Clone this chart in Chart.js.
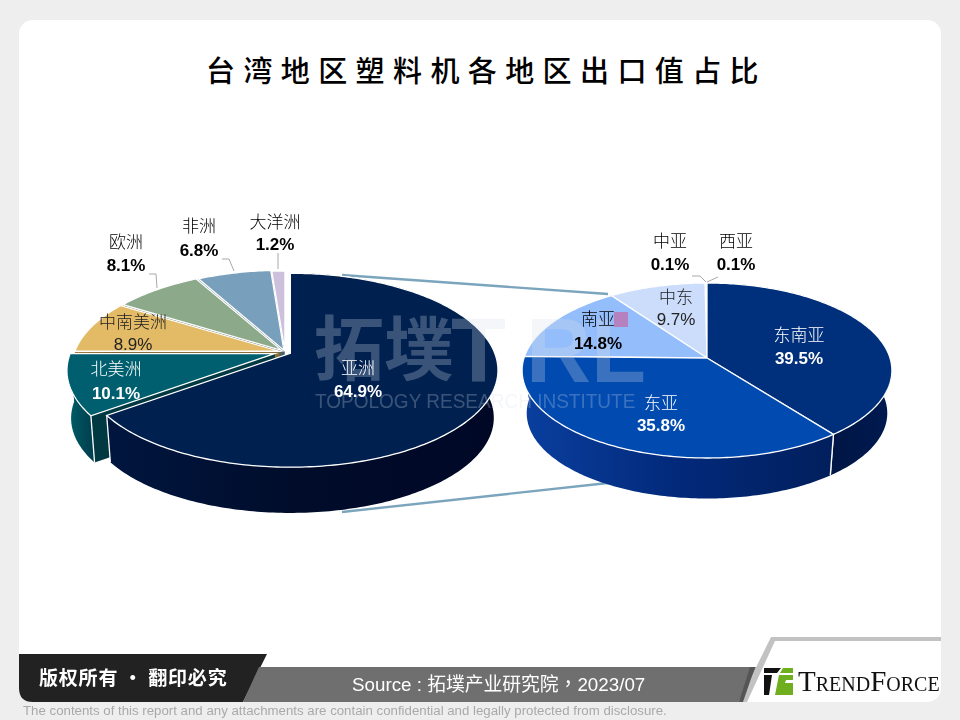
<!DOCTYPE html>
<html>
<head>
<meta charset="utf-8">
<title>台湾地区塑料机各地区出口值占比</title>
<script src="https://cdn.jsdelivr.net/npm/chart.js@4/dist/chart.umd.min.js"></script>
<style>
html, body { margin: 0; padding: 0; }
body { width: 960px; height: 720px; background: #eeeeee; position: relative; overflow: hidden; font-family: "Liberation Sans", Arial, sans-serif; }
#card { position: absolute; left: 19px; top: 20px; width: 922px; height: 682px; background: #fff; border-radius: 14px; }
#title { position: absolute; left: 0; top: 45px; width: 973px; text-align: center; font: 500 29px/48px "Noto Sans CJK SC", sans-serif; letter-spacing: 8.4px; color: #000; }
svg { position: absolute; left: 0; top: 0; }
canvas { position: absolute; }
#pieMain { left: 50px; top: 180px; }
#pieSub { left: 500px; top: 206px; }
.mark { position: absolute; color: rgba(215, 222, 232, 0.27); font-weight: bold; white-space: nowrap; line-height: 1; }
.name, .val { position: absolute; transform: translate(-50%, -50%); white-space: nowrap; line-height: 1; }
.name { font: 300 17px/1 "Noto Sans CJK SC", sans-serif; }
.val { font: bold 17px/1 "Liberation Sans", Arial, sans-serif; }
#pink { position: absolute; left: 614px; top: 312px; width: 14px; height: 15px; background: #b581be; }
.foot { position: absolute; white-space: nowrap; }
</style>
</head>
<body>
<div id="card"></div>
<div id="title">台湾地区塑料机各地区出口值占比</div>

<!-- connector lines between the two pies -->
<svg width="960" height="720">
  <polyline points="342,275 608,294" fill="none" stroke="#7ba4bd" stroke-width="2.4"/>
  <polyline points="342,512 608,483" fill="none" stroke="#7ba4bd" stroke-width="2.4"/>
</svg>

<canvas id="pieMain" width="470" height="344"></canvas>
<canvas id="pieSub" width="414" height="304"></canvas>

<!-- watermark -->
<div class="mark" style="left:314px;top:310px;font:bold 70px/1 'Noto Sans CJK SC',sans-serif;">拓墣</div>
<div class="mark" style="left:451px;top:306px;font-size:90px;">T</div>
<div class="mark" style="left:526px;top:306px;font-size:90px;">RL</div>
<div class="mark" style="left:315px;top:390px;font-size:21px;font-weight:normal;transform:scaleX(0.905);transform-origin:left top;">TOPOLOGY RESEARCH INSTITUTE</div>

<!-- leader lines -->
<svg width="960" height="720">
  <g fill="none" stroke="#a8a8a8" stroke-width="1">
    <polyline points="149,274 156,274 157,288"/>
    <polyline points="222,259 229,259 234,271"/>
    <polyline points="278,253 278,269"/>
    <polyline points="692,276 700,276 706,282"/>
    <polyline points="718,277 707,282"/>
  </g>
</svg>

<div id="labels"></div>
<div id="pink"></div>

<!-- footer -->
<svg width="960" height="720">
  <path d="M19 654 H267 L243 702 H33 Q19 702 19 688 Z" fill="#222222"/>
  <path d="M243 702 L259 667 H756 L743 702 Z" fill="#6f6f6f"/>
  <path d="M771 637 H941 V641 H775 L747 702 H739 Z" fill="#c2c2c2"/>
  <path d="M755 667 L743 702 H739 L750 667 Z" fill="#555555"/>
  <path d="M764 668 H781 L777 673 H764 Z" fill="#111111"/>
  <path d="M764 675 H772 L769 695 H764 Z" fill="#111111"/>
  <path d="M783 668 H793 V673 H780 Z" fill="#6fae1e"/>
  <path d="M779 675 H793 V680 H786 L785 683 H793 V695 H775 Z" fill="#6fae1e"/>
</svg>
<div class="foot" style="left:39px;top:665px;color:#fff;font:bold 19px/24px 'Noto Sans CJK SC',sans-serif;letter-spacing:0.8px;">版权所有 · 翻印必究</div>
<div class="foot" style="left:352px;top:674px;color:#fff;font:18.8px/22px 'Liberation Sans','Noto Sans CJK TC',sans-serif;">Source : 拓墣产业研究院，2023/07</div>
<div class="foot" style="left:798px;top:666px;color:#111;font:29px/30px 'Liberation Serif',serif;font-variant:small-caps;">TrendForce</div>
<div class="foot" style="left:23px;top:703px;color:#a9a9a9;font:13.26px/16px 'Liberation Sans',Arial,sans-serif;">The contents of this report and any attachments are contain confidential and legally protected from disclosure.</div>

<script>
// Data
const regionNames = ['亚洲', '北美洲', '中南美洲', '欧洲', '非洲', '大洋洲'];
const regionValues = [64.9, 10.1, 8.9, 8.1, 6.8, 1.2];
const asiaNames = ['东南亚', '东亚', '南亚', '中东', '中亚', '西亚'];
const asiaValues = [39.5, 35.8, 14.8, 9.7, 0.1, 0.1];

// Slice colours
const regionColors = ['#002050', '#005f6e', '#e3bb66', '#8ca98a', '#789fbb', '#cdc0dc'];
const asiaColors = ['#00307b', '#004ab0', '#94bdfb', '#ccddfb', '#dfe8fb', '#dfe8fb'];
const regionOffsets = [6, 11, 6, 5, 4, 2];
const asiaOffsets = [0, 0, 0, 0, 0, 0];

// Side wall colours, left to right across each slice
const regionWalls = [['#00163f', '#000c2a', '#000826'], ['#00606e', '#004f5c', '#004050'], ['#a08040', '#806630'], ['#607860', '#506650'], ['#506f85', '#405a6c'], ['#8f86a0', '#7f7690']];
const asiaWalls = [['#000f36', '#00133f', '#001a50'], ['#0a3f9f', '#02297a', '#011f5c'], ['#5f86c8', '#4a6eaa'], ['#8fa4c8', '#7f94b8'], ['#9999aa', '#9999aa'], ['#9999aa', '#9999aa']];

// Where each label sits: x, name y, value y, colour, bold value
const regionPlaces = [
  [358, 366, 391, '#fff', true], [116, 367, 393, '#fff', true], [133, 320, 344, '#222', false],
  [126, 240, 265, '#000', true], [199, 224, 250, '#000', true], [275, 220, 244, '#000', true]
];
const asiaPlaces = [
  [799, 333, 358, '#fff', true], [661, 401, 425, '#fff', true], [598, 317, 343, '#000', true],
  [676, 295, 319, '#222', false], [670, 239, 264, '#000', true], [736, 239, 264, '#000', true]
];

function shade(hex, f) {
  const n = parseInt(hex.slice(1), 16);
  const c = [n >> 16, (n >> 8) & 255, n & 255].map(v => Math.round(v * f));
  return 'rgb(' + c.join(',') + ')';
}

// Tilted pie: takes the angles Chart.js worked out and lays them on a slanted disc
function tiltedPie(view) {
  const { sx, sy, k, depth, shrink, walls } = view;
  function point(arc, angle, r, low) {
    const mid = (arc.startAngle + arc.endAngle) / 2;
    const off = arc.options.offset || 0;
    const u = Math.cos(angle) * r;
    const v = Math.sin(angle) * r;
    const w = 1 - k * v;
    const s = low ? shrink : 1;
    return [
      arc.x + off * Math.cos(mid) + sx * u / w * s,
      arc.y + off * Math.sin(mid) * sy / sx + sy * v / w * s + (low ? depth : 0)
    ];
  }
  function rim(arc, low) {
    const steps = Math.max(2, Math.ceil((arc.endAngle - arc.startAngle) * 60));
    const pts = [];
    for (let i = 0; i <= steps; i++) {
      pts.push(point(arc, arc.startAngle + (arc.endAngle - arc.startAngle) * i / steps, 1, low));
    }
    return pts;
  }
  function fillPath(ctx, pts, fill) {
    ctx.beginPath();
    pts.forEach((p, i) => i ? ctx.lineTo(p[0], p[1]) : ctx.moveTo(p[0], p[1]));
    ctx.closePath();
    ctx.fillStyle = fill;
    ctx.fill();
  }
  return {
    id: 'tiltedPie',
    beforeDatasetsDraw(chart) {
      const ctx = chart.ctx;
      const arcs = chart.getDatasetMeta(0).data.map((arc, i) => ({ arc, i }));
      // back slices first
      arcs.sort((a, b) => Math.sin((a.arc.startAngle + a.arc.endAngle) / 2) - Math.sin((b.arc.startAngle + b.arc.endAngle) / 2));
      arcs.forEach(({ arc, i }) => {
        const top = rim(arc, false);
        const low = rim(arc, true);
        const apexTop = point(arc, 0, 0, false);
        const apexLow = point(arc, 0, 0, true);
        const face = shade(arc.options.backgroundColor, 0.6);
        // cut faces
        fillPath(ctx, [apexTop, apexLow, low[0], top[0]], face);
        fillPath(ctx, [apexTop, apexLow, low[low.length - 1], top[top.length - 1]], face);
        // outer wall
        const xs = top.map(p => p[0]);
        const grad = ctx.createLinearGradient(Math.min(...xs), 0, Math.max(...xs), 0);
        walls[i].forEach((c, j) => grad.addColorStop(j / (walls[i].length - 1), c));
        fillPath(ctx, top.concat(low.slice().reverse()), grad);
        // wall seams
        ctx.strokeStyle = arc.options.borderColor;
        ctx.lineWidth = arc.options.borderWidth;
        [0, top.length - 1].forEach(e => {
          if (top[e][1] > arc.y + sy * k) {
            ctx.beginPath();
            ctx.moveTo(top[e][0], top[e][1]);
            ctx.lineTo(low[e][0], low[e][1]);
            ctx.stroke();
          }
        });
        // top surface
        fillPath(ctx, [apexTop].concat(top), arc.options.backgroundColor);
        ctx.stroke();
      });
      return false;
    }
  };
}

function makePie(id, names, values, colors, offsets, view) {
  return new Chart(document.getElementById(id), {
    type: 'pie',
    data: {
      labels: names,
      datasets: [{
        data: values,
        backgroundColor: colors,
        borderColor: '#ffffff',
        borderWidth: 1.3,
        offset: offsets
      }]
    },
    options: {
      responsive: false,
      animation: false,
      plugins: { legend: { display: false }, tooltip: { enabled: false } }
    },
    plugins: [tiltedPie(view)]
  });
}

makePie('pieMain', regionNames, regionValues, regionColors, regionOffsets,
  { sx: 204.4, sy: 94, k: 0.175, depth: 48, shrink: 0.98, walls: regionWalls });
makePie('pieSub', asiaNames, asiaValues, asiaColors, asiaOffsets,
  { sx: 183, sy: 85.7, k: 0.143, depth: 43, shrink: 0.975, walls: asiaWalls });

// Labels
function addLabels(names, values, places) {
  const box = document.getElementById('labels');
  names.forEach((name, i) => {
    const [x, y1, y2, color, bold] = places[i];
    const a = document.createElement('div');
    a.className = 'name';
    a.textContent = name;
    a.style.cssText = 'left:' + x + 'px;top:' + y1 + 'px;color:' + color;
    const b = document.createElement('div');
    b.className = 'val';
    b.textContent = values[i].toFixed(1) + '%';
    b.style.cssText = 'left:' + x + 'px;top:' + y2 + 'px;color:' + color + (bold ? '' : ';font-weight:normal');
    box.appendChild(a);
    box.appendChild(b);
  });
}
addLabels(regionNames, regionValues, regionPlaces);
addLabels(asiaNames, asiaValues, asiaPlaces);
</script>
</body>
</html>
